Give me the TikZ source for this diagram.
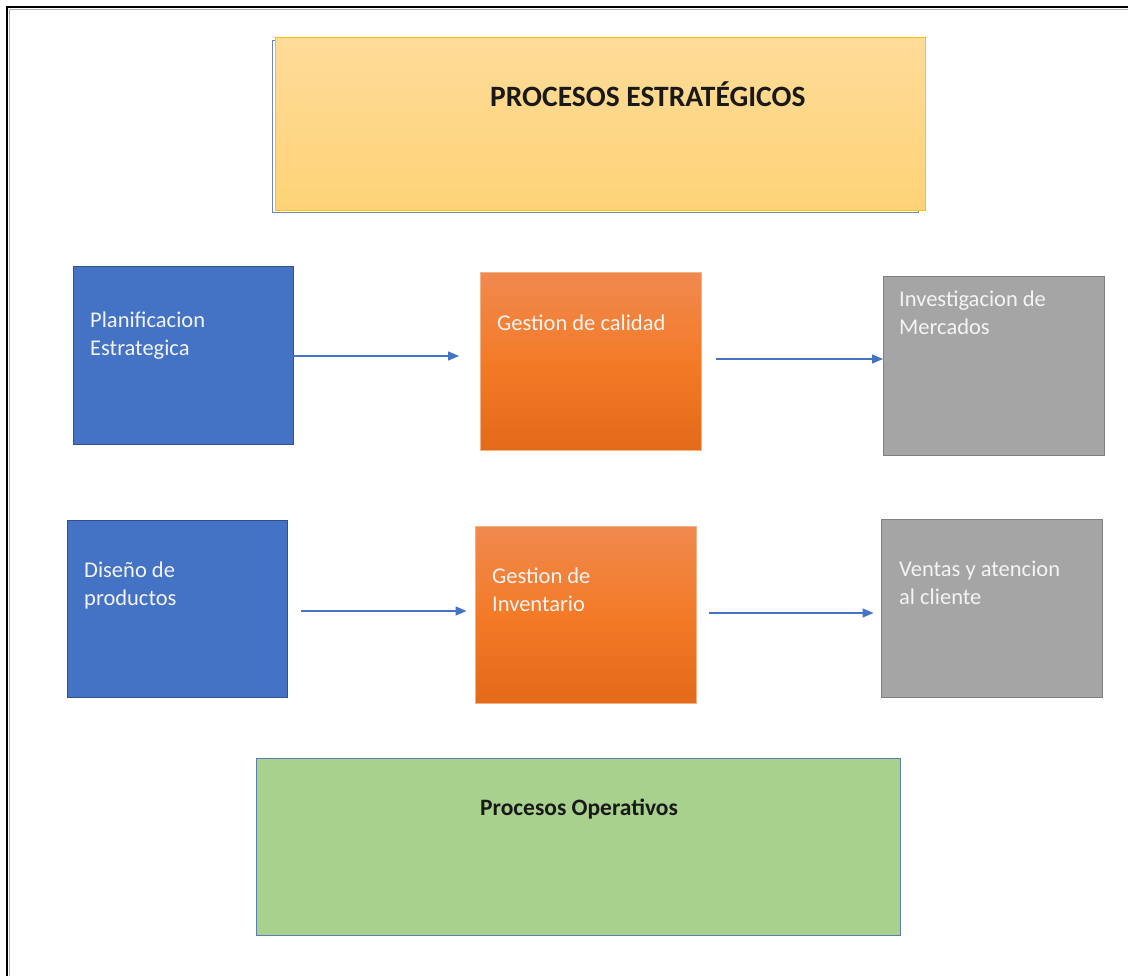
\documentclass[tikz,border=0pt]{standalone}
\usepackage{fontspec}
\setmainfont{Carlito}
\usetikzlibrary{arrows.meta}
\definecolor{bluefill}{HTML}{4472C4}
\definecolor{blueedge}{HTML}{2F528F}
\definecolor{graybox}{HTML}{A5A5A5}
\definecolor{grayedge}{HTML}{7F7F7F}
\definecolor{orangetop}{HTML}{F0894E}
\definecolor{orangemid}{HTML}{F37B28}
\definecolor{orangebot}{HTML}{E36A18}
\definecolor{orangeedge}{HTML}{F4B183}
\definecolor{yellowtop}{HTML}{FEDB98}
\definecolor{yellowbot}{HTML}{FED377}
\definecolor{yellowedge}{HTML}{FFC000}
\definecolor{shadowblue}{HTML}{6F86AE}
\definecolor{greenfill}{HTML}{A9D18E}
\definecolor{greenedge}{HTML}{5B7DB3}
\definecolor{arrowblue}{HTML}{4472C4}
\definecolor{boxtextcol}{HTML}{F4F4F4}
\tikzset{
  box/.style={rectangle, inner sep=0, outer sep=0, line width=1},
  bluebox/.style={box, fill=bluefill, draw=blueedge, minimum width=220, minimum height=177},
  orangebox/.style={box, top color=orangetop, bottom color=orangebot, middle color=orangemid, draw=orangeedge, minimum width=221, minimum height=177},
  graybox/.style={box, fill=graybox, draw=grayedge, minimum width=221, minimum height=178},
  boxtext/.style={anchor=north west, inner sep=0, align=left, text=boxtextcol, font=\fontsize{22.5}{28}\selectfont},
  titletext/.style={anchor=base west, inner sep=0, text=black!90, font=\bfseries\fontsize{29.5}{33}\selectfont},
  arr/.style={draw=arrowblue, line width=1.4, -{Triangle[length=11,width=9]}}
}
\begin{document}
\begin{tikzpicture}[x=1pt,y=-1pt]
\useasboundingbox (0,0) rectangle (1128,976);
\fill[white] (0,0) rectangle (1128,976);
% outer frame (open to the right and bottom)
\draw[gray!60, line width=1] (9.5,976) -- (9.5,9.5) -- (1128,9.5);
\draw[black, line width=2.4] (7,976) -- (7,7) -- (1128,7);

% top strategic box
\node[box, draw=shadowblue, minimum width=646, minimum height=172] (ysh) at (595,127) {};
\node[box, top color=yellowtop, bottom color=yellowbot, draw=yellowedge, minimum width=650, minimum height=173] (est) at (600,124.5) {};
\node[titletext] (estt) at (490,107) {PROCESOS ESTRATÉGICOS};

% row 1
\node[bluebox] (p1) at (183,355.5) {};
\node[orangebox] (g1) at (590.5,361.5) {};
\node[graybox] (i1) at (993.5,366) {};
\node[boxtext] (p1t) at (90,312) {Planificacion\\Estrategica};
\node[boxtext] (g1t) at (497,315) {Gestion de calidad};
\node[boxtext] (i1t) at (899,291) {Investigacion de\\Mercados};

% row 2
\node[bluebox] (d1) at (177,608.5) {};
\node[orangebox] (g2) at (586,614.5) {};
\node[graybox] (v1) at (992,608.5) {};
\node[boxtext] (d1t) at (84,562) {Diseño de\\productos};
\node[boxtext] (g2t) at (492,568) {Gestion de\\Inventario};
\node[boxtext] (v1t) at (899,561) {Ventas y atencion\\al cliente};

% connectors
\coordinate (r1a) at (0,356);
\coordinate (r1b) at (0,359);
\coordinate (r2a) at (0,611);
\coordinate (r2b) at (0,613);
\draw[arr, shorten >=21] (p1.east |- r1a) -- (g1.west |- r1a);
\draw[arr, shorten <=15] (g1.east |- r1b) -- (i1.west |- r1b);
\draw[arr, shorten <=14, shorten >=9] (d1.east |- r2a) -- (g2.west |- r2a);
\draw[arr, shorten <=12, shorten >=8] (g2.east |- r2b) -- (v1.west |- r2b);

% operative box
\node[box, fill=greenfill, draw=greenedge, minimum width=644, minimum height=177] (op) at (578,846.5) {};
\node[titletext, font=\bfseries\fontsize{23.5}{27}\selectfont] (opt) at (480,815.5) {Procesos Operativos};
\end{tikzpicture}
\end{document}
